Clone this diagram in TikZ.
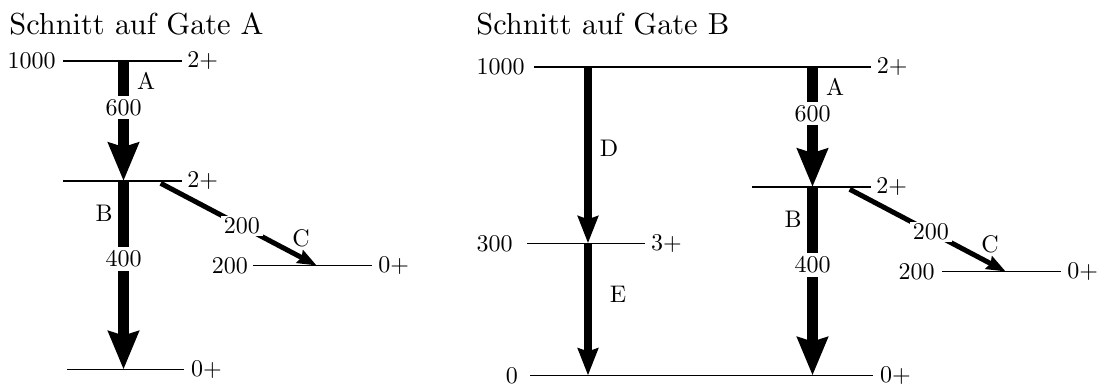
\documentclass[tikz,border=0pt]{standalone}
\usetikzlibrary{arrows.meta}
\font\labfont=cmr10 at 12pt
\font\ttlfont=cmr10 at 15.2pt
\begin{document}
\begin{tikzpicture}[x=0.5pt,y=-0.5pt,
  lvl/.style={line width=0.6pt},
  lvlthick/.style={line width=0.9pt},
  lab/.style={font=\labfont, inner sep=0pt},
  bigarrow/.style={line width=5.5pt, -{Stealth[length=19pt,width=15pt,inset=2pt]}},
  midarrow/.style={line width=4.2pt, -{Stealth[length=13.5pt,width=10pt,inset=1.5pt]}},
  smallarrow/.style={line width=2.5pt, -{Stealth[length=9.5pt,width=7pt,inset=1pt]}},
  val/.style={lab, fill=white, inner xsep=1.5pt, inner ysep=2pt},
  ttl/.style={font=\ttlfont, anchor=base west, inner sep=0pt}
]
\useasboundingbox (0,0) rectangle (1102,385);

% ---------- left: Schnitt auf Gate A ----------
\node[ttl] (tA) at (9,34.5) {Schnitt auf Gate A};

\coordinate (a1l) at (63,61);   \coordinate (a1r) at (182,61);
\coordinate (a2l) at (63,181);  \coordinate (a2r) at (182,181);
\coordinate (a0l) at (67,369.5); \coordinate (a0r) at (184,369.5);
\coordinate (a3l) at (253,265.7); \coordinate (a3r) at (371.7,265.7);
\coordinate (aAs) at (123.5,61);  \coordinate (aAe) at (123.5,181);
\coordinate (aBe) at (123.5,369.5);
\coordinate (aCs) at (160.7,183.3); \coordinate (aCe) at (316.7,265.5);

\draw[lvl] (a1l) -- (a1r);
\draw[lvl] (a2l) -- (a2r);
\draw[lvl] (a0l) -- (a0r);
\draw[lvl] (a3l) -- (a3r);

\node[lab,anchor=east] (a1000) at (56,61) {1000};
\node[lab,anchor=west] (a1spin) at (187,61) {2+};
\node[lab,anchor=west] (a2spin) at (187,181) {2+};
\node[lab,anchor=west] (a0spin) at (190.7,369.5) {0+};
\node[lab,anchor=east] (a200) at (248.3,265.7) {200};
\node[lab,anchor=west] (a3spin) at (378,265.7) {0+};

\draw[bigarrow] (aAs) -- node[val,pos=0.3875] (aA600) {600} (aAe);
\draw[bigarrow] (aAe) -- node[val,pos=0.414] (aB400) {400} (aBe);
\draw[smallarrow] (aCs) -- node[val,pos=0.52,inner ysep=1pt] (aC200) {200} (aCe);

\node[lab] (aAlab) at (146,81.5) {A};
\node[lab] (aBlab) at (104,213) {B};
\node[lab] (aClab) at (301,238) {C};

% ---------- right: Schnitt auf Gate B ----------
\node[ttl] (tB) at (476,35) {Schnitt auf Gate B};

\coordinate (b1l) at (534,67);   \coordinate (b1r) at (871,67);
\coordinate (b2l) at (752,187);  \coordinate (b2r) at (871,187);
\coordinate (b0l) at (530,375.5); \coordinate (b0r) at (873,375.5);
\coordinate (b3l) at (942,271.7); \coordinate (b3r) at (1060.7,271.7);
\coordinate (b4l) at (527,243.3); \coordinate (b4r) at (645,243.3);
\coordinate (bDs) at (588,67);  \coordinate (bDe) at (588,243.3);
\coordinate (bEe) at (588,375.5);
\coordinate (bAs) at (812.5,67);  \coordinate (bAe) at (812.5,187);
\coordinate (bBe) at (812.5,375.5);
\coordinate (bCs) at (849.7,189.3); \coordinate (bCe) at (1005.7,271.5);

\draw[lvlthick] (b1l) -- (b1r);
\draw[lvl] (b2l) -- (b2r);
\draw[lvlthick] (b0l) -- (b0r);
\draw[lvl] (b3l) -- (b3r);
\draw[lvl] (b4l) -- (b4r);

\node[lab,anchor=east] (b1000) at (525,67) {1000};
\node[lab,anchor=west] (b1spin) at (876.5,67) {2+};
\node[lab,anchor=west] (b2spin) at (876,187) {2+};
\node[lab,anchor=east] (b0) at (518.3,375.5) {0};
\node[lab,anchor=west] (b0spin) at (879.7,375.5) {0+};
\node[lab,anchor=east] (b300) at (513,243.3) {300};
\node[lab,anchor=west] (b4spin) at (650.7,243.3) {3+};
\node[lab,anchor=east] (b200) at (935,271.7) {200};
\node[lab,anchor=west] (b3spin) at (1067,271.7) {0+};

\draw[midarrow] (bDs) -- (bDe);
\draw[midarrow] (bDe) -- (bEe);
\draw[bigarrow] (bAs) -- node[val,pos=0.3875] (bA600) {600} (bAe);
\draw[bigarrow] (bAe) -- node[val,pos=0.414] (bB400) {400} (bBe);
\draw[smallarrow] (bCs) -- node[val,pos=0.52,inner ysep=1pt] (bC200) {200} (bCe);

\node[lab] (bDlab) at (609,148) {D};
\node[lab] (bElab) at (618,294) {E};
\node[lab] (bAlab) at (835,87.5) {A};
\node[lab] (bBlab) at (793,219) {B};
\node[lab] (bClab) at (990,244) {C};
\end{tikzpicture}
\end{document}
